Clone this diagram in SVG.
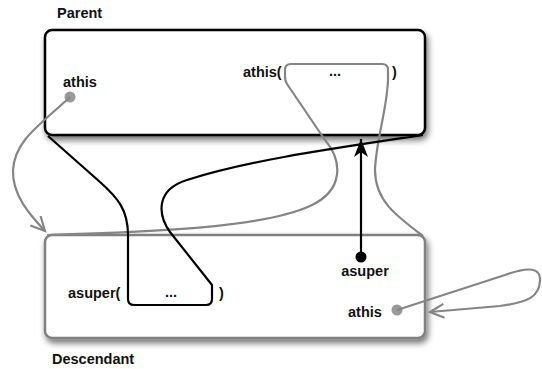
<svg xmlns="http://www.w3.org/2000/svg" width="542" height="369" viewBox="0 0 542 369">
  <style>
    .lbl { font-family: "Liberation Sans", Arial, Helvetica, sans-serif; font-weight: bold; font-size: 14.5px; fill: #111; }
    .box { fill: #fff; filter: url(#shadow); }
    .black { fill: none; stroke: #000; stroke-width: 2.2; stroke-linejoin: round; }
    .gray { fill: none; stroke: #858585; stroke-width: 2.2; stroke-linejoin: round; }
  </style>
  <defs>
    <filter id="shadow" x="-10%" y="-10%" width="125%" height="135%">
      <feDropShadow dx="2" dy="4" stdDeviation="3" flood-color="#000" flood-opacity="0.55"/>
    </filter>
    <marker id="solidHead" markerUnits="userSpaceOnUse" markerWidth="20" markerHeight="16" refX="18" refY="7" orient="auto">
      <path d="M 0 0 L 18 7 L 0 14 L 5 7 Z" fill="#000"/>
    </marker>
    <marker id="openHead" markerUnits="userSpaceOnUse" markerWidth="18" markerHeight="18" refX="15" refY="8" orient="auto">
      <path d="M 1 1 L 15 8 L 1 15" fill="none" stroke="#858585" stroke-width="2.2"/>
    </marker>
  </defs>

  <rect width="542" height="369" fill="#fff"/>

  <!-- Parent class -->
  <g id="parent">
    <rect class="box" x="45" y="30" width="380" height="105" rx="7" stroke="#000" stroke-width="2.5"/>
    <text class="lbl" x="57" y="18">Parent</text>
    <text class="lbl" x="63" y="87">athis</text>
    <circle cx="70" cy="97" r="5.5" fill="#999"/>
    <text class="lbl" x="243" y="77">athis(</text>
    <text class="lbl" x="335" y="76" text-anchor="middle">...</text>
    <text class="lbl" x="392" y="77">)</text>
  </g>

  <!-- Descendant class -->
  <g id="descendant">
    <rect class="box" x="45" y="235" width="380" height="103" rx="7" stroke="#808080" stroke-width="2.5"/>
    <text class="lbl" x="52" y="364">Descendant</text>
    <text class="lbl" x="68" y="298">asuper(</text>
    <text class="lbl" x="171" y="297" text-anchor="middle">...</text>
    <text class="lbl" x="219" y="298">)</text>
    <text class="lbl" x="365" y="276" text-anchor="middle">asuper</text>
    <text class="lbl" x="348" y="317">athis</text>
    <circle cx="397" cy="310" r="5.5" fill="#999"/>
  </g>

  <!-- Connectors -->
  <g id="connectors">
    <!-- athis( body reaching from Parent down into Descendant -->
    <path class="gray" d="M 47 235 C 150 232, 262 228, 310 206 C 345 190, 342 160, 325 140 L 287 84 Q 285 81 285 77 L 285 70 Q 285 64 291 64 L 382 64 Q 388 64 388 70 L 388 80 C 387 110, 376 140, 375 170 C 375 200, 395 215, 423 236"/>
    <!-- asuper( body spanning the Parent box -->
    <path class="black" d="M 48 136 L 100 182 C 118 198, 128 210, 128 235 L 128 299 Q 128 305 134 305 L 206 305 Q 212 305 212 299 L 212 285 L 170 232 C 158 215, 155 190, 187 180 C 250 160, 330 149, 423 135"/>
    <!-- asuper reference pointing up to Parent -->
    <path class="black" d="M 361 257 L 361 139" marker-end="url(#solidHead)"/>
    <circle cx="361" cy="257" r="5.5" fill="#000"/>
    <!-- Parent athis pointing to Descendant -->
    <path class="gray" d="M 70 97 C 40 125, 15 140, 13 170 C 12 195, 30 215, 45 231" marker-end="url(#openHead)"/>
    <!-- Descendant athis looping back to itself -->
    <path class="gray" d="M 397 310 L 505 275 C 530 266, 541 268, 540 281 C 539 296, 530 302, 500 306 L 430 312" marker-end="url(#openHead)"/>
  </g>
</svg>
